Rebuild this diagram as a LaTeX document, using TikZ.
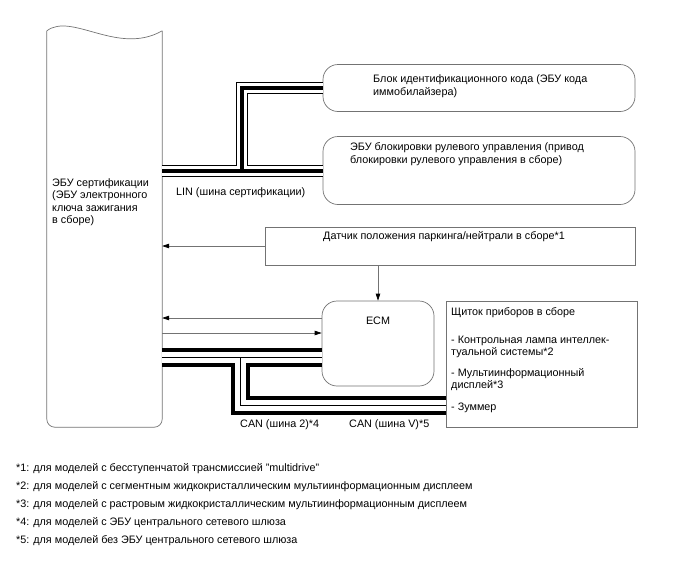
\documentclass[tikz,border=0pt]{standalone}
\usepackage{fontspec}
\setmainfont{Liberation Sans}
\usepackage{tikz}
\usetikzlibrary{arrows.meta,positioning,calc}

\begin{document}
\begin{tikzpicture}[x=1pt, y=-1pt,
  unit/.style={rectangle, draw=black!55, line width=0.7pt, fill=white, inner sep=0pt},
  runit/.style={unit, rounded corners=15pt},
  txt/.style={font=\fontsize{10.8}{12.5}\selectfont, inner sep=0pt, align=left, anchor=west},
  outline/.style={draw=black!55, line width=0.7pt},
  sig/.style={draw=black!55, line width=0.7pt, -{Triangle[length=7pt,width=4.5pt,color=black]}},
  linbus/.style={draw=black, line width=4pt, preaction={draw=black, line width=12pt}, preaction={draw=white, line width=10pt}},
  canbus/.style={draw=black, line width=1pt, preaction={draw=black, line width=19pt}, preaction={draw=white, line width=11pt}},
]
\useasboundingbox (0,0) rectangle (688,560);

% certification ECU (wavy top)
\node[inner sep=0pt, minimum width=115pt, minimum height=396pt] (cert) at (104.5,229) {};
\draw[outline, rounded corners=8pt] (cert.north east) -- (cert.south east) -- (cert.south west) -- (cert.north west);
\draw[outline] (cert.north west) .. controls (72,12) and (118,56) .. (cert.north east);
\node[txt] (certlbl) at (52,202) {ЭБУ сертификации\\(ЭБУ электронного\\ключа зажигания\\в сборе)};

% boxes
\node[runit, minimum width=312pt, minimum height=47pt] (immo) at (479,88) {};
\node[runit, minimum width=312pt, minimum height=68pt] (lock) at (479,170.5) {};
\node[unit, minimum width=370pt, minimum height=38pt] (sensor) at (450,246) {};
\node[runit, minimum width=112pt, minimum height=85pt] (ecm) at (378,343.5) {};
\node[unit, minimum width=191pt, minimum height=126pt] (meter) at (541.5,364) {};

\node[txt] (immolbl) at (373,86) {Блок идентификационного кода (ЭБУ кода\\иммобилайзера)};
\node[txt] (locklbl) at (350,154) {ЭБУ блокировки рулевого управления (привод\\блокировки рулевого управления в сборе)};
\node[txt] (senslbl) at (323,237) {Датчик положения паркинга/нейтрали в сборе*1};
\node[txt, anchor=center] (ecmlbl) at (378,321) {ECM};
\node[txt, anchor=north west, font=\fontsize{10.8}{11.5}\selectfont] (meterlbl) at (451,307)
  {Щиток приборов в сборе\\[17pt]- Контрольная лампа интеллек-\\туальной системы*2\\[10pt]- Мультиинформационный\\дисплей*3\\[11pt]- Зуммер};

% buses
\coordinate (linj) at (241.5,170.5);
\draw[linbus] (cert.east |- lock.west) -- (lock.west) (linj) |- (immo.west);
\node[txt] (linlbl) at (176,193) {LIN (шина сертификации)};

\coordinate (canj) at (240.5,357.5);
\coordinate (canb) at (240.5,405.5);
\draw[canbus] (cert.east |- canj) -- (canj -| ecm.west) (canj) -- (canb) -- (canb -| meter.west);
\node[txt] (can2lbl) at (240,425) {CAN (шина 2)*4};
\node[txt] (canvlbl) at (349,425) {CAN (шина V)*5};

% signals
\coordinate (ecmout) at ([yshift=25.5pt]ecm.west);
\coordinate (ecmin) at ([yshift=10.5pt]ecm.west);
\draw[sig] (sensor.west) -- (sensor.west -| cert.east);
\draw[sig] (ecm.north |- sensor.south) -- (ecm.north);
\draw[sig] (ecmout) -- (ecmout -| cert.east);
\draw[sig] (ecmin -| cert.east) -- (ecmin);

% notes
\node[txt] (fn1) at (16,469) {*1: для моделей с бесступенчатой трансмиссией "multidrive"};
\node[txt] (fn2) at (16,487) {*2: для моделей с сегментным жидкокристаллическим мультиинформационным дисплеем};
\node[txt] (fn3) at (16,505) {*3: для моделей с растровым жидкокристаллическим мультиинформационным дисплеем};
\node[txt] (fn4) at (16,523) {*4: для моделей с ЭБУ центрального сетевого шлюза};
\node[txt] (fn5) at (16,541) {*5: для моделей без ЭБУ центрального сетевого шлюза};
\end{tikzpicture}
\end{document}
